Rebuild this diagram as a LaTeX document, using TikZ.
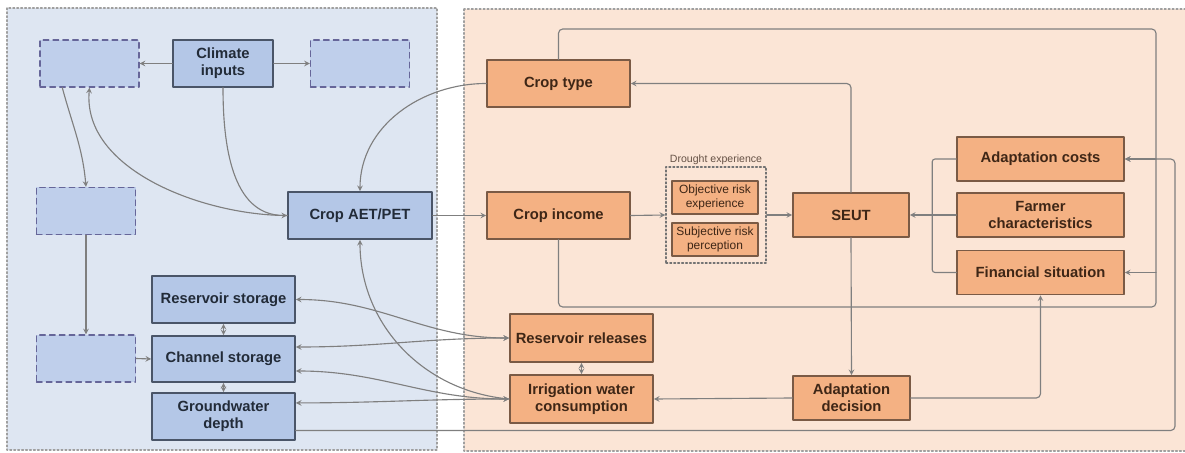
\documentclass[tikz,border=0pt]{standalone}
\usepackage{fontspec}
\setmainfont{Liberation Sans}
\definecolor{panelL}{HTML}{DEE6F2}
\definecolor{panelR}{HTML}{FBE5D6}
\definecolor{boxL}{HTML}{B4C7E7}
\definecolor{boxR}{HTML}{F4B183}
\definecolor{edgeL}{HTML}{4A5568}
\definecolor{edgeR}{HTML}{7A5A45}
\definecolor{textL}{HTML}{222B38}
\definecolor{textR}{HTML}{3E2616}
\definecolor{wire}{HTML}{7F7F7F}
\tikzset{
  lbox/.style={draw=edgeL,line width=1.1pt,fill=boxL,text=textL,align=center,
    font=\bfseries\fontsize{10.5}{12}\selectfont,inner sep=1pt,
    minimum width=3.575cm,minimum height=1.175cm},
  rbox/.style={lbox,draw=edgeR,fill=boxR,text=textR},
  sbox/.style={rbox,line width=1pt,font=\fontsize{8.5}{9.5}\selectfont,
    minimum width=2.15cm,minimum height=0.825cm},
  dbox/.style={draw=gray!80!blue,dash pattern=on 4pt off 3pt,line width=.9pt,
    fill=boxL!85!white,minimum width=2.475cm,minimum height=1.175cm},
  dotbox/.style={draw=gray!90!black,dash pattern=on 1.2pt off 1.6pt,line width=1pt,
    minimum width=2.5cm,minimum height=2.4cm},
  lbl/.style={font=\fontsize{7.5}{8}\selectfont,text=textR!80,inner sep=1pt},
  panelbox/.style={draw=gray!75,dash pattern=on 1.2pt off 1.6pt,line width=1pt},
  wire/.style={draw=wire,line width=.8pt}
}
\begin{document}
\begin{tikzpicture}[x=0.025cm,y=-0.025cm,>=stealth,line join=round,line cap=round]
  \useasboundingbox (0,0) rectangle (1185,453);
  % panels
  \path[panelbox,fill=panelL] (7,8) rectangle (437,450);
  \path[panelbox,fill=panelR] (464,9) rectangle (1192,451);
  % hydrology side
  \node[dbox] (dash1) at (89.5,63.5) {};
  \node[lbox,minimum width=2.5cm] (clim) at (223,63.5) {Climate\\inputs};
  \node[dbox] (dash2) at (360,63.5) {};
  \node[dbox] (dash3) at (86,211) {};
  \node[dbox] (dash4) at (86,358.5) {};
  \node[lbox,minimum width=3.6cm] (aet) at (360,215.5) {Crop AET/PET};
  \node[lbox] (resstor) at (223.5,299.5) {Reservoir storage};
  \node[lbox,minimum height=1.15cm] (chan) at (223.5,359) {Channel storage};
  \node[lbox] (gw) at (223.5,416.5) {Groundwater\\depth};
  % farmer side
  \node[rbox] (ctype) at (558.5,83.5) {Crop type};
  \node[rbox] (cinc) at (558.5,215.5) {Crop income};
  \node[dotbox,label={[lbl]above:Drought experience}] (dexp) at (716,215) {};
  \node[sbox] (obj) at (715,197.5) {Objective risk\\experience};
  \node[sbox] (subj) at (715,239.5) {Subjective risk\\perception};
  \node[rbox,minimum width=2.9cm,minimum height=1.1cm] (seut) at (851,215) {SEUT};
  \node[rbox,minimum width=4.175cm,minimum height=1.1cm] (cost) at (1040.5,159) {Adaptation costs};
  \node[rbox,minimum width=4.175cm,minimum height=1.1cm] (farm) at (1040.5,215) {Farmer\\characteristics};
  \node[rbox,minimum width=4.175cm,minimum height=1.1cm] (fin) at (1040.5,272.5) {Financial situation};
  \node[rbox,minimum height=1.2cm] (rrel) at (581.5,338) {Reservoir releases};
  \node[rbox,minimum height=1.2cm] (irr) at (581.5,399) {Irrigation water\\consumption};
  \node[rbox,minimum width=2.925cm,minimum height=1.1cm] (adec) at (851.5,398) {Adaptation\\decision};
  \coordinate (tr) at (1156,29);
  \coordinate (br) at (1156,307);
  \coordinate (gr) at (1175,159);
  % connectors
  \draw[wire,->] (clim.west) -- (dash1.east);
  \draw[wire,->] (clim.east) -- (dash2.west);
  \draw[wire,->] (clim.south) to[out=-90,in=180] (aet.west);
  \draw[wire,->] ([xshift=-0.68cm]dash1.south) to[out=-75,in=95] (dash3.north);
  \draw[wire,<-] (dash1.south) to[out=-95,in=180,looseness=.9] (aet.west);
  \draw[wire,->] (ctype.west) to[out=180,in=90] (aet.north);
  \draw[wire,->] (dash3.south) -- (dash4.north);
  \draw[wire,->] (dash4.east) -- (chan.west);
  \draw[wire,<->] (resstor.south) -- (chan.north);
  \draw[wire,<->] (chan.south) -- (gw.north);
  \draw[wire,<->] (resstor.east) to[out=0,in=180] (rrel.west);
  \draw[wire,<->] ([yshift=0.3cm]chan.east) to[out=0,in=180] (rrel.west);
  \draw[wire,<->] ([yshift=-0.3cm]chan.east) to[out=0,in=180] (irr.west);
  \draw[wire,<->] ([yshift=0.34cm]gw.east) to[out=0,in=180] (irr.west);
  \draw[wire,<-] (aet.south) to[out=-90,in=175] (irr.west);
  \draw[wire,->] (aet.east) -- (cinc.west);
  \draw[wire,->] (cinc.east) -- (dexp.west);
  \draw[wire,->] (dexp.east) -- (seut.west);
  \draw[wire,->] (farm.west) -- (seut.east);
  \draw[wire,rounded corners=2pt] (cost.west) -- ++(-24,0) |- (fin.west);
  \draw[wire,->,rounded corners=3pt] (seut.north) |- (ctype.east);
  \draw[wire,->] (seut.south) -- (adec.north);
  \draw[wire,rounded corners=3pt] (ctype.north) |- (tr) -- (br) -| (cinc.south);
  \draw[wire,->] (cost.east -| br) -- (cost.east);
  \draw[wire,->] (fin.east -| br) -- (fin.east);
  \draw[wire,->,rounded corners=3pt] ([yshift=-0.35cm]gw.east) -| (gr) -- (cost.east);
  \draw[wire,->,rounded corners=3pt] (adec.east) -| (fin.south);
  \draw[wire,->] (adec.west) -- (irr.east);
  \draw[wire,<->] (rrel.south) -- (irr.north);
\end{tikzpicture}
\end{document}
